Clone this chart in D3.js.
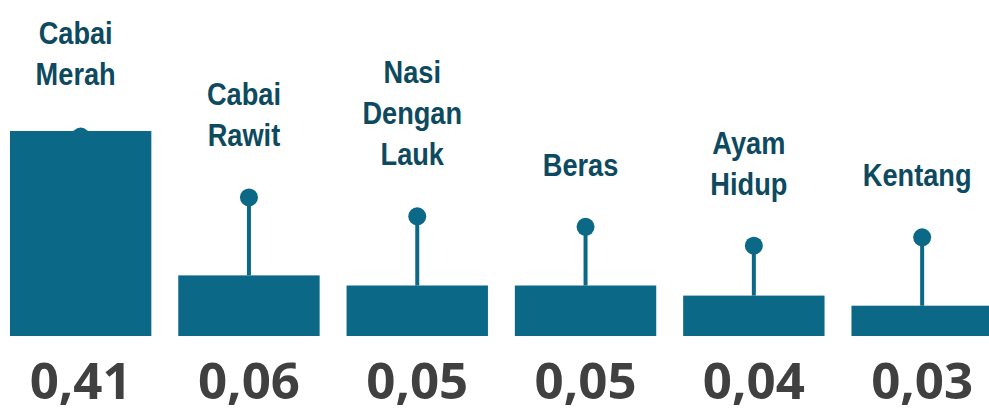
<!DOCTYPE html>
<html>
<head>
<meta charset="utf-8">
<script src="https://cdn.jsdelivr.net/npm/d3@7"></script>
<style>
  html, body { margin: 0; padding: 0; background: #fff; }
</style>
</head>
<body>
<div id="chart"></div>
<script>
// Komoditas dan nilai andil
var komoditas = ["Cabai\nMerah", "Cabai\nRawit", "Nasi\nDengan\nLauk", "Beras", "Ayam\nHidup", "Kentang"];
var andil = [0.41, 0.06, 0.05, 0.05, 0.04, 0.03];
var labelAndil = ["0,41", "0,06", "0,05", "0,05", "0,04", "0,03"];
// tinggi penanda (lollipop) relatif
var penanda = [0.95, 0.66, 0.57, 0.52, 0.43, 0.47];

var width = 989, height = 414, baseY = 336;

var svg = d3.select("#chart")
    .append("svg")
    .attr("width", width)
    .attr("height", height);

var data = komoditas.map((k, i) => ({ name: k, value: andil[i], label: labelAndil[i], pin: penanda[i] }));

// X axis (bands)
var x = d3.scaleBand()
    .domain(data.map(d => d.name))
    .range([-3.5, 1006.3])
    .paddingInner(0.16)
    .paddingOuter(0.08);

// Bar heights: broken scale so the large bar does not dwarf the rest
var h = d3.scaleLinear()
    .domain([0, 0.1, 0.41])
    .range([0, 101, 205]);

var p = d3.scaleLinear()
    .domain([0, 1])
    .range([0, 210]);

var cx = d => x(d.name) + x.bandwidth() / 2;

// Stems
svg.selectAll("stem")
    .data(data)
    .enter()
    .append("line")
    .attr("x1", cx)
    .attr("x2", cx)
    .attr("y1", d => baseY - p(d.pin))
    .attr("y2", d => baseY - h(d.value))
    .attr("stroke", "#0b6886")
    .attr("stroke-width", 4);

// Pin heads
svg.selectAll("pin")
    .data(data)
    .enter()
    .append("circle")
    .attr("cx", cx)
    .attr("cy", d => baseY - p(d.pin))
    .attr("r", 9)
    .attr("fill", "#0b6886");

// Bars
svg.selectAll("bar")
    .data(data)
    .enter()
    .append("rect")
    .attr("x", d => x(d.name))
    .attr("y", d => baseY - h(d.value))
    .attr("width", x.bandwidth())
    .attr("height", d => h(d.value))
    .attr("fill", "#0b6886");

// Commodity names (wrapped, squeezed to look like a narrow face)
var names = svg.selectAll("nameLabel")
    .data(data)
    .enter()
    .append("text")
    .attr("transform", d => "translate(" + (cx(d) - 5) + ",0) scale(0.85,1)")
    .attr("text-anchor", "middle")
    .style("font-family", "'Liberation Sans', Arial, sans-serif")
    .style("font-weight", "bold")
    .style("font-size", "32px")
    .style("fill", "#0d4a5f");

names.each(function(d) {
    var lines = d.name.split("\n");
    var lastBase = baseY - p(d.pin) - 51;
    d3.select(this).selectAll("tspan")
        .data(lines)
        .enter()
        .append("tspan")
        .attr("x", 0)
        .attr("y", (l, i) => lastBase - (lines.length - 1 - i) * 41)
        .text(l => l);
});

// Values
svg.selectAll("valueLabel")
    .data(data)
    .enter()
    .append("text")
    .attr("x", cx)
    .attr("y", 399)
    .attr("text-anchor", "middle")
    .text(d => d.label)
    .style("font-family", "'Open Sans', sans-serif")
    .style("font-weight", "bold")
    .style("font-size", "51px")
    .style("fill", "#404040");
</script>
</body>
</html>
